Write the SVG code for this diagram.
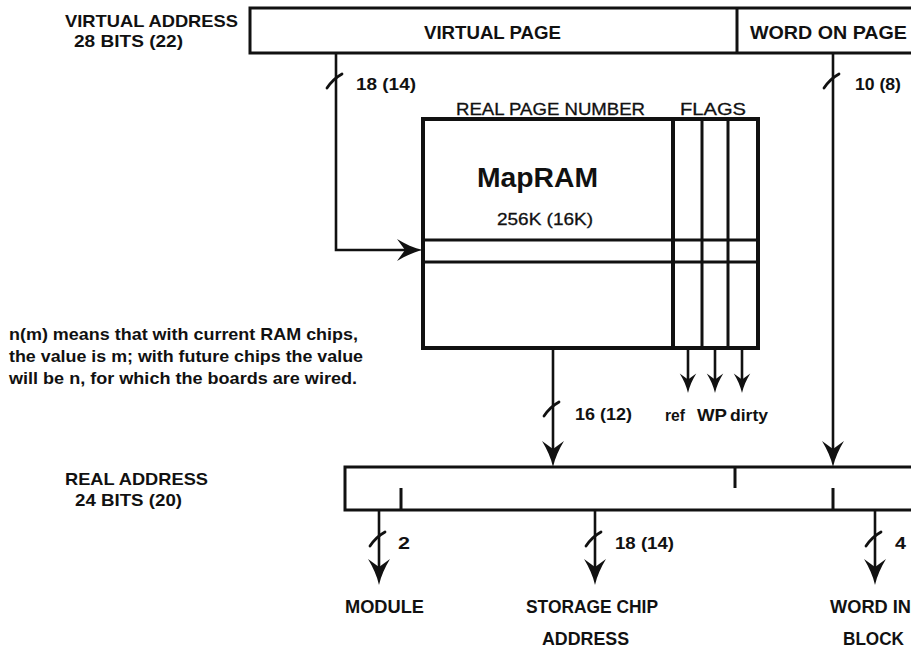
<svg xmlns="http://www.w3.org/2000/svg" width="911" height="649" viewBox="0 0 911 649">
<style>
text{font-family:"Liberation Sans",Arial,sans-serif;fill:#111;font-weight:bold}
.t18{font-size:18px}
.t17{font-size:17px}
.t16{font-size:17px}
.reg{font-weight:normal;stroke:#111;stroke-width:0.3}
.box{fill:none;stroke:#111;stroke-width:3}
.thick{fill:none;stroke:#111;stroke-width:4}
.wire{fill:none;stroke:#111;stroke-width:2.6}
.slash{fill:none;stroke:#111;stroke-width:2.8;stroke-linecap:round}
.head{fill:#111;stroke:none}
</style>
<defs>
<path id="ah" d="M0,0 C-2,-9 -6,-18 -11,-26 L0,-18 L11,-26 C6,-18 2,-9 0,0 Z"/>
<path id="sl" d="M-9,7 Q-3,-2 6,-7"/>
</defs>
<rect width="911" height="649" fill="#fff"/>

<g id="virtual-address">
<text class="t17" x="65" y="27" textLength="173" lengthAdjust="spacingAndGlyphs">VIRTUAL ADDRESS</text>
<text class="t17" x="74" y="47" textLength="109" lengthAdjust="spacingAndGlyphs">28 BITS (22)</text>
<rect class="box" x="250" y="8" width="670" height="45"/>
<line class="box" x1="737" y1="8" x2="737" y2="53"/>
<text class="t18" x="424" y="39" textLength="137" lengthAdjust="spacingAndGlyphs">VIRTUAL PAGE</text>
<text class="t18" x="750" y="39" textLength="157" lengthAdjust="spacingAndGlyphs">WORD ON PAGE</text>
</g>

<g id="mapram">
<text class="t16 reg" x="456" y="115" textLength="189" lengthAdjust="spacingAndGlyphs">REAL PAGE NUMBER</text>
<text class="t16 reg" x="680" y="115" textLength="66" lengthAdjust="spacingAndGlyphs">FLAGS</text>
<rect class="thick" x="423" y="119" width="335" height="229"/>
<line class="thick" x1="673" y1="119" x2="673" y2="348"/>
<line class="box" x1="702" y1="119" x2="702" y2="348"/>
<line class="box" x1="728" y1="119" x2="728" y2="348"/>
<line class="box" x1="423" y1="240" x2="758" y2="240"/>
<line class="box" x1="423" y1="262" x2="758" y2="262"/>
<text x="477" y="187" textLength="121" lengthAdjust="spacingAndGlyphs" style="font-size:27px">MapRAM</text>
<text class="t16 reg" x="497" y="225" textLength="96" lengthAdjust="spacingAndGlyphs">256K (16K)</text>
</g>

<g id="note">
<text class="t16" x="9" y="340" textLength="349" lengthAdjust="spacingAndGlyphs">n(m) means that with current RAM chips,</text>
<text class="t16" x="9" y="362" textLength="354" lengthAdjust="spacingAndGlyphs">the value is m; with future chips the value</text>
<text class="t16" x="9" y="384" textLength="348" lengthAdjust="spacingAndGlyphs">will be n, for which the boards are wired.</text>
</g>

<g id="flags-out">
<text class="t16" x="665" y="421" textLength="20" lengthAdjust="spacingAndGlyphs">ref</text>
<text class="t16" x="697" y="421" textLength="30" lengthAdjust="spacingAndGlyphs">WP</text>
<text class="t16" x="730" y="421" textLength="38" lengthAdjust="spacingAndGlyphs">dirty</text>
</g>

<g id="real-address">
<text class="t17" x="65" y="485" textLength="143" lengthAdjust="spacingAndGlyphs">REAL ADDRESS</text>
<text class="t17" x="75" y="506" textLength="107" lengthAdjust="spacingAndGlyphs">24 BITS (20)</text>
<rect class="box" x="345" y="467" width="575" height="43"/>
<line class="box" x1="401" y1="488" x2="401" y2="510"/>
<line class="box" x1="735" y1="467" x2="735" y2="488"/>
<line class="box" x1="833" y1="488" x2="833" y2="510"/>
</g>

<g id="module">
<text class="t18" x="345" y="613" textLength="79" lengthAdjust="spacingAndGlyphs">MODULE</text>
</g>
<g id="storage-chip">
<text class="t18" x="526" y="613" textLength="132" lengthAdjust="spacingAndGlyphs">STORAGE CHIP</text>
<text class="t18" x="542" y="645" textLength="87" lengthAdjust="spacingAndGlyphs">ADDRESS</text>
</g>
<g id="word-in-block">
<text class="t18" x="830" y="613" textLength="81" lengthAdjust="spacingAndGlyphs">WORD IN</text>
<text class="t18" x="843" y="645" textLength="61" lengthAdjust="spacingAndGlyphs">BLOCK</text>
</g>

<g id="connectors">
<polyline class="wire" points="336,53 336,250 405,250"/>
<use href="#ah" class="head" transform="translate(423,250) rotate(-90)"/>
<use href="#sl" class="slash" transform="translate(336,81)"/>
<text class="t16" x="356" y="90" textLength="60" lengthAdjust="spacingAndGlyphs">18 (14)</text>

<line class="wire" x1="833" y1="53" x2="833" y2="450"/>
<use href="#ah" class="head" transform="translate(833,467)"/>
<use href="#sl" class="slash" transform="translate(833,81)"/>
<text class="t16" x="855" y="90" textLength="46" lengthAdjust="spacingAndGlyphs">10 (8)</text>

<line class="wire" x1="553" y1="348" x2="553" y2="450"/>
<use href="#ah" class="head" transform="translate(553,467)"/>
<use href="#sl" class="slash" transform="translate(553,409)"/>
<text class="t16" x="575" y="420" textLength="57" lengthAdjust="spacingAndGlyphs">16 (12)</text>

<line class="wire" x1="688" y1="348" x2="688" y2="380"/>
<use href="#ah" class="head" transform="translate(688,393) scale(0.75)"/>
<line class="wire" x1="715" y1="348" x2="715" y2="380"/>
<use href="#ah" class="head" transform="translate(715,393) scale(0.75)"/>
<line class="wire" x1="742" y1="348" x2="742" y2="380"/>
<use href="#ah" class="head" transform="translate(742,393) scale(0.75)"/>

<line class="wire" x1="379" y1="510" x2="379" y2="570"/>
<use href="#ah" class="head" transform="translate(379,585)"/>
<use href="#sl" class="slash" transform="translate(379,539)"/>
<text class="t16" x="398" y="549" textLength="12" lengthAdjust="spacingAndGlyphs">2</text>

<line class="wire" x1="595" y1="510" x2="595" y2="570"/>
<use href="#ah" class="head" transform="translate(595,585)"/>
<use href="#sl" class="slash" transform="translate(595,539)"/>
<text class="t16" x="615" y="549" textLength="59" lengthAdjust="spacingAndGlyphs">18 (14)</text>

<line class="wire" x1="875" y1="510" x2="875" y2="570"/>
<use href="#ah" class="head" transform="translate(875,585)"/>
<use href="#sl" class="slash" transform="translate(875,539)"/>
<text class="t16" x="895" y="549" textLength="11" lengthAdjust="spacingAndGlyphs">4</text>
</g>
</svg>
